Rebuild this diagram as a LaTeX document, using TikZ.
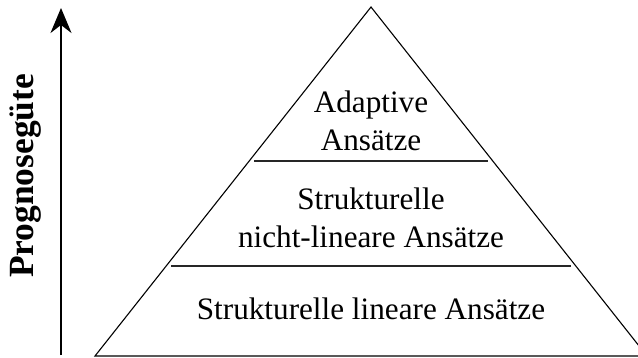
\documentclass[tikz,border=0pt]{standalone}
\usepackage{fontspec}
\setmainfont{Liberation Serif}
\usetikzlibrary{arrows.meta, positioning, calc}

\begin{document}
\begin{tikzpicture}[
    x=1pt, y=-1pt,
    layer/.style={align=center, inner sep=0pt, font=\fontsize{31.2}{38}\selectfont},
    axislabel/.style={rotate=90, anchor=base, inner sep=0pt, font=\fontsize{35.4}{40}\selectfont\bfseries},
    edge/.style={draw, line width=1.1pt, line join=miter},
    divider/.style={draw, line width=1.1pt, black!85},
    axis/.style={draw, line width=1.1pt, -{Stealth[length=25pt, width=21pt, inset=8pt]}}
]
    \clip (0,0) rectangle (638,357);

    % pyramid corners
    \coordinate (apex) at (371,7);
    \coordinate (baseL) at (95,356);
    \coordinate (baseR) at (647,356);
    \draw [edge] (baseL) -- (apex) -- (baseR) -- cycle;

    % layer borders
    \coordinate (upL) at (254,161);
    \coordinate (upR) at (488,161);
    \coordinate (lowL) at (171,266);
    \coordinate (lowR) at (571,266);
    \draw [divider] (upL) -- (upR);
    \draw [divider] (lowL) -- (lowR);

    \node [layer] (adaptive) at (371,121) {Adaptive\\Ansätze};
    \node [layer] (nonlinear) at (371,218) {Strukturelle\\nicht-lineare Ansätze};
    \node [layer] (linear) at (371,309) {Strukturelle lineare Ansätze};

    % quality axis
    \coordinate (axisfoot) at (61,355);
    \coordinate (axistip) at (61,8);
    \draw [axis] (axisfoot) -- (axistip);
    \node [axislabel] (quality) at (33,176) {Prognosegüte};

\end{tikzpicture}
\end{document}
